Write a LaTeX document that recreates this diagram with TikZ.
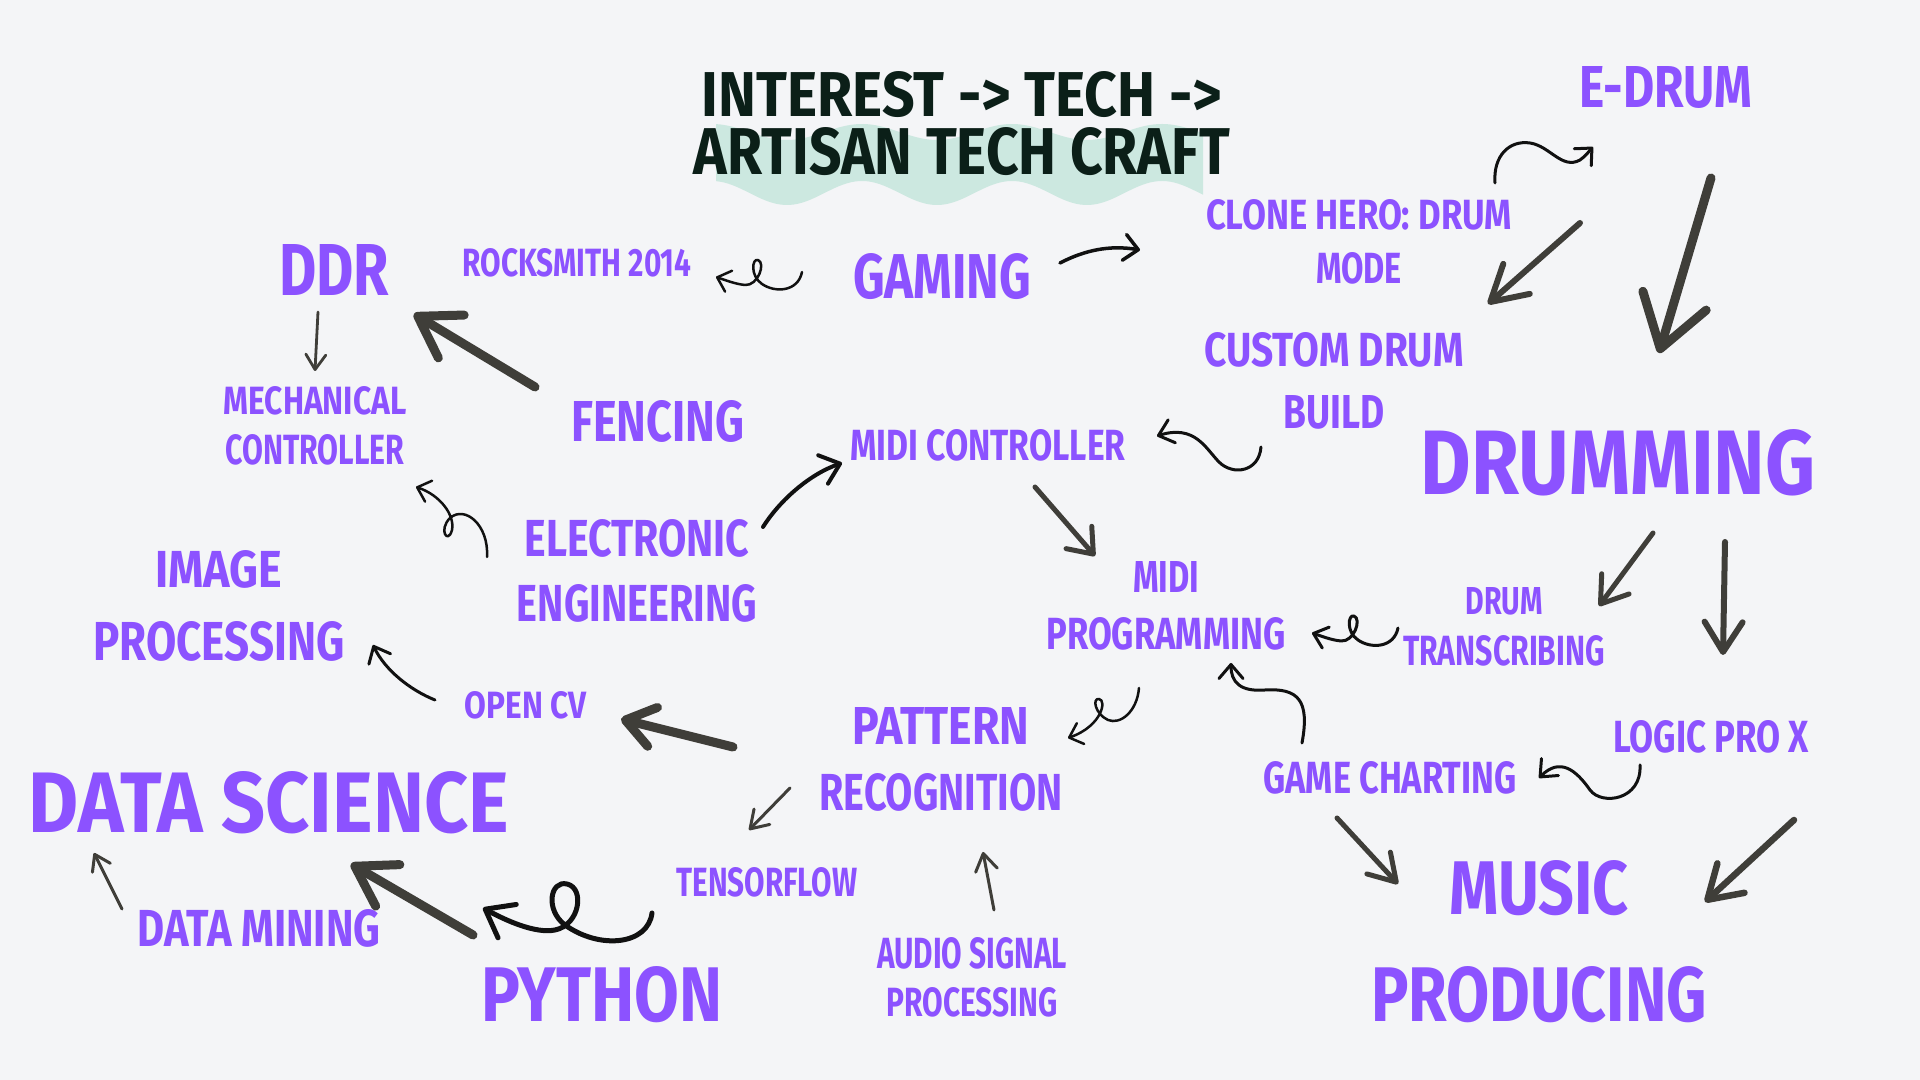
\documentclass[tikz,border=0pt]{standalone}
\usepackage{fontspec}
\setmainfont{Fira Sans}
\usetikzlibrary{arrows.meta}
\definecolor{bg}{HTML}{F4F5F7}
\definecolor{purp}{HTML}{8C52FF}
\definecolor{ink}{HTML}{0B1F18}
\definecolor{wavec}{HTML}{CCE8E0}
\definecolor{gr}{HTML}{3F3E39}
\definecolor{blk}{HTML}{111111}
\newdimen\pxu \pxu=0.01cm
\newcommand{\lbl}[3]{\resizebox{#1\pxu}{#2\pxu}{\bfseries #3}}
\newcommand{\twoline}[7]{\vbox{\offinterlineskip\halign{\hfil##\hfil\cr\lbl{#1}{#2}{#3}\cr\noalign{\vskip #7\pxu}\lbl{#4}{#5}{#6}\cr}}}
\tikzset{
  tx/.style={inner sep=0pt, outer sep=0pt, text=purp},
  barr/.style n args={3}{draw=blk, line width=#1cm, line cap=round, line join=round,
     -{Straight Barb[length=#2cm, width=#3cm, line cap=round, line join=round]}},
  garr/.style n args={3}{draw=gr, line width=#1cm, line cap=round, line join=round,
     -{Straight Barb[length=#2cm, width=#3cm, line cap=round, line join=round]}}
}
\begin{document}
\begin{tikzpicture}[x=0.01cm, y=-0.01cm]
\fill[bg] (0,0) rectangle (1920,1080);
\useasboundingbox (0,0) rectangle (1920,1080);
% title wave
\fill[wavec] plot[domain=716:1203, samples=120] (\x, {132+8*cos(2.4*(\x-787))})
  -- plot[domain=1203:716, samples=120] (\x, {193+12*cos(2.4*(\x-787))}) -- cycle;
\node[tx, text=ink] (title) at (962,124) {\twoline{520}{45}{INTEREST -> TECH ->}{536}{47}{ARTISAN TECH CRAFT}{10}};
% nodes
\node[tx] (edrum) at (1666,88) {\lbl{173}{41}{E-DRUM}};
\node[tx] (clone) at (1359,242) {\twoline{306}{30}{CLONE HERO: DRUM}{86}{31}{MODE}{23}};
\node[tx] (custom) at (1334,381) {\twoline{259}{34}{CUSTOM DRUM}{101}{33}{BUILD}{29}};
\node[tx] (drumming) at (1618,463) {\lbl{395}{65}{DRUMMING}};
\node[tx] (gaming) at (942,277) {\lbl{178}{45}{GAMING}};
\node[tx] (rock) at (577,263) {\lbl{229}{28}{ROCKSMITH 2014}};
\node[tx] (ddr) at (334,270) {\lbl{110}{51}{DDR}};
\node[tx] (mech) at (315,426) {\twoline{183}{28}{MECHANICAL}{179}{30}{CONTROLLER}{19}};
\node[tx] (fencing) at (658,422) {\lbl{173}{41}{FENCING}};
\node[tx] (midictl) at (988,445) {\lbl{275}{31}{MIDI CONTROLLER}};
\node[tx] (elec) at (637,571) {\twoline{225}{37}{ELECTRONIC}{240}{37}{ENGINEERING}{28}};
\node[tx] (image) at (219,606) {\twoline{127}{37}{IMAGE}{251}{39}{PROCESSING}{33}};
\node[tx] (opencv) at (526,705) {\lbl{122}{27}{OPEN CV}};
\node[tx] (midiprog) at (1166,606) {\twoline{66}{31}{MIDI}{239}{32}{PROGRAMMING}{25}};
\node[tx] (drumtr) at (1504,627) {\twoline{77}{27}{DRUM}{202}{30}{TRANSCRIBING}{20}};
\node[tx] (pattern) at (941,759) {\twoline{177}{37}{PATTERN}{243}{37}{RECOGNITION}{29}};
\node[tx] (gamech) at (1390,778) {\lbl{253}{32}{GAME CHARTING}};
\node[tx] (logic) at (1711,737) {\lbl{196}{32}{LOGIC PRO X}};
\node[tx] (music) at (1539,942) {\twoline{180}{54}{MUSIC}{336}{55}{PRODUCING}{51}};
\node[tx] (datasci) at (269,803) {\lbl{480}{61}{DATA SCIENCE}};
\node[tx] (tensor) at (767,882) {\lbl{181}{29}{TENSORFLOW}};
\node[tx] (audio) at (972,977) {\twoline{190}{31}{AUDIO SIGNAL}{171}{29}{PROCESSING}{18}};
\node[tx] (python) at (602,995) {\lbl{241}{55}{PYTHON}};
\node[tx] (datamin) at (259,928) {\lbl{243}{37}{DATA MINING}};
% connectors
% A1 clone -> edrum
\draw[barr={0.03}{0.13}{0.24}] ([shift={(136,-59)}]clone.center) .. controls (1493,155) and (1510,140) .. (1530,143)
  .. controls (1550,146) and (1562,170) .. (1580,160) .. controls (1586,156) and (1590,150) .. ([shift={(-73,59)}]edrum.center);
% A2 edrum -> custom
\draw[garr={0.06}{0.35}{0.40}] ([shift={(-86,135)}]edrum.center) -- ([shift={(154,-77)}]custom.center);
% A3 edrum -> drumming
\draw[garr={0.09}{0.50}{0.66}] ([shift={(45,90)}]edrum.center) -- ([shift={(41,-110)}]drumming.center);
% A4 gaming -> clone
\draw[barr={0.035}{0.14}{0.26}] ([shift={(118,-14)}]gaming.center) .. controls (1085,250) and (1110,245) .. ([shift={(-219,8)}]clone.center);
% A5 gaming -> rocksmith
\draw[barr={0.025}{0.12}{0.22}] ([shift={(-140,-5)}]gaming.center) .. controls (798,292) and (775,293) .. (762,284)
  .. controls (750,276) and (752,258) .. (758,260) .. controls (766,263) and (758,286) .. (745,285)
  .. controls (735,284) and (725,280) .. ([shift={(139,14)}]rock.center);
% A6 ddr -> mech
\draw[garr={0.028}{0.15}{0.20}] ([shift={(-16,42)}]ddr.center) -- ([shift={(0,-55)}]mech.center);
% A7 fencing -> ddr
\draw[garr={0.09}{0.39}{0.50}] ([shift={(-123,-35)}]fencing.center) -- ([shift={(80,44)}]ddr.center);
% A8 elec -> mech
\draw[barr={0.025}{0.12}{0.22}] ([shift={(-150,-14)}]elec.center) .. controls (489,525) and (465,505) .. (450,518)
  .. controls (438,530) and (448,545) .. (452,530) .. controls (455,515) and (440,495) .. ([shift={(101,61)}]mech.center);
% A9 elec -> midi controller
\draw[barr={0.04}{0.18}{0.30}] ([shift={(126,-44)}]elec.center) .. controls (780,500) and (810,474) .. ([shift={(-146,18)}]midictl.center);
% A10 custom -> midi controller
\draw[barr={0.03}{0.14}{0.24}] ([shift={(-73,66)}]custom.center) .. controls (1259,472) and (1233,476) .. (1219,462)
  .. controls (1206,449) and (1195,424) .. ([shift={(169,-9)}]midictl.center);
% A11 midi controller -> midi programming
\draw[garr={0.05}{0.22}{0.34}] ([shift={(47,42)}]midictl.center) -- ([shift={(-71,-50)}]midiprog.center);
% A12 drumming -> drum transcribing
\draw[garr={0.05}{0.25}{0.34}] ([shift={(35,70)}]drumming.center) -- ([shift={(95,-21)}]drumtr.center);
% A13 drumming -> logic
\draw[garr={0.06}{0.30}{0.38}] ([shift={(107,79)}]drumming.center) -- ([shift={(12,-82)}]logic.center);
% A14 drum transcribing -> midi programming
\draw[barr={0.03}{0.13}{0.22}] ([shift={(-106,1)}]drumtr.center) .. controls (1394,648) and (1371,649) .. (1358,640)
  .. controls (1346,632) and (1348,614) .. (1354,616) .. controls (1362,619) and (1354,642) .. (1341,641)
  .. controls (1331,640) and (1321,636) .. ([shift={(146,27)}]midiprog.center);
% A15 midi programming -> pattern
\draw[barr={0.025}{0.12}{0.22}] ([shift={(-27,82)}]midiprog.center) .. controls (1137,712) and (1120,725) .. (1108,720)
  .. controls (1095,714) and (1092,698) .. (1099,699) .. controls (1107,700) and (1102,726) .. ([shift={(127,-21)}]pattern.center);
% A16 game charting -> midi programming
\draw[barr={0.03}{0.14}{0.24}] ([shift={(-88,-35)}]gamech.center) .. controls (1310,700) and (1298,688) .. (1265,690)
  .. controls (1240,692) and (1231,682) .. ([shift={(65,57)}]midiprog.center);
% A17 logic -> game charting
\draw[barr={0.03}{0.14}{0.24}] ([shift={(-71,28)}]logic.center) .. controls (1642,800) and (1602,806) .. (1590,790)
  .. controls (1576,770) and (1560,757) .. ([shift={(149,0)}]gamech.center);
% A18 game charting -> music producing
\draw[garr={0.05}{0.26}{0.32}] ([shift={(-53,40)}]gamech.center) -- ([shift={(-141,-58)}]music.center);
% A19 logic -> music producing
\draw[garr={0.065}{0.32}{0.40}] ([shift={(83,83)}]logic.center) -- ([shift={(166,-40)}]music.center);
% A20 pattern -> open cv
\draw[garr={0.09}{0.28}{0.40}] ([shift={(-208,-12)}]pattern.center) -- ([shift={(95,14)}]opencv.center);
% A21 open cv -> image processing
\draw[barr={0.03}{0.14}{0.24}] ([shift={(-91,-5)}]opencv.center) .. controls (410,690) and (385,670) .. ([shift={(154,39)}]image.center);
% A22 pattern -> tensorflow
\draw[garr={0.03}{0.17}{0.22}] ([shift={(-151,29)}]pattern.center) -- ([shift={(-18,-52)}]tensor.center);
% A23 audio -> pattern
\draw[garr={0.03}{0.17}{0.22}] ([shift={(22,-67)}]audio.center) -- ([shift={(42,93)}]pattern.center);
% A24 tensorflow -> python
\draw[barr={0.05}{0.25}{0.38}] ([shift={(-115,31)}]tensor.center) .. controls (648,945) and (600,950) .. (565,925)
  .. controls (545,910) and (550,880) .. (567,884) .. controls (585,888) and (580,925) .. (555,930)
  .. controls (535,934) and (505,920) .. ([shift={(-119,-87)}]python.center);
% A25 python -> data science
\draw[garr={0.09}{0.38}{0.48}] ([shift={(-129,-60)}]python.center) -- ([shift={(82,61)}]datasci.center);
% A26 data mining -> data science
\draw[garr={0.03}{0.15}{0.20}] ([shift={(-137,-19)}]datamin.center) -- ([shift={(-175,50)}]datasci.center);
\end{tikzpicture}
\end{document}
